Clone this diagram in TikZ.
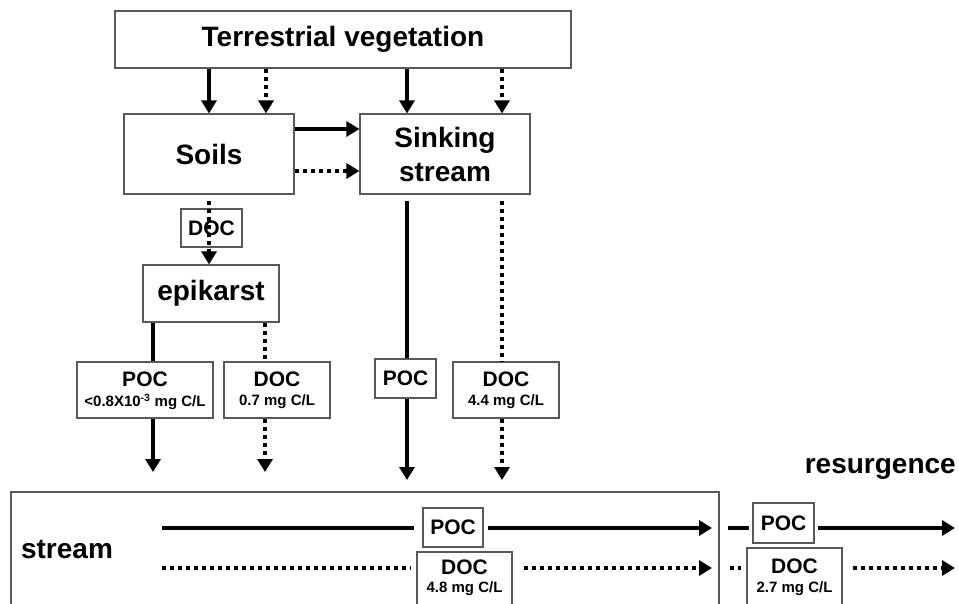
\documentclass[tikz,border=0pt]{standalone}
\usepackage{fontspec}
\setmainfont{Liberation Sans}
\usetikzlibrary{arrows.meta}
\newcommand\szBig{\fontsize{28}{34}\selectfont\bfseries}
\newcommand\szMid{\fontsize{21}{24}\selectfont\bfseries}
\newcommand\szSmall{\fontsize{15}{17}\selectfont\bfseries}
\begin{document}
\begin{tikzpicture}[x=1pt,y=-1pt,
  box/.style={draw=black!65,line width=1.1pt,inner sep=0pt,align=center},
  txt/.style={inner sep=0pt,align=center},
  solidarr/.style={line width=3.6pt,-{Triangle[length=13pt,width=15pt]}},
  dotarr/.style={line width=3.6pt,dash pattern=on 4pt off 4pt,-{Triangle[length=13pt,width=15pt]}},
  solidln/.style={line width=3.6pt},
  dotln/.style={line width=3.6pt,dash pattern=on 4pt off 4pt}]
\useasboundingbox (0,0) rectangle (959,604);
\clip (0,0) rectangle (959,604);
% boxes
\node (tv) [box,minimum width=456pt,minimum height=57pt,font=\szBig] at (343,39.5) {Terrestrial vegetation};
\node (soils) [box,minimum width=170pt,minimum height=80pt,font=\szBig] at (209,154) {Soils};
\node (sink) [box,minimum width=170pt,minimum height=80pt,font=\szBig] at (445,154) {Sinking\\stream};
\node (doc1) [box,minimum width=61pt,minimum height=38pt,font=\szMid] at (211.5,228) {DOC};
\node (epi) [box,minimum width=136pt,minimum height=57pt,font=\szBig] at (211,293.5) {epikarst};
\node (poc1) [box,minimum width=136pt,minimum height=56pt] at (145,390) {};
\node (poc1a) [txt,font=\szMid] at (145,379) {POC};
\node (poc1b) [txt,font=\szSmall] at (145,402) {<0.8X10\textsuperscript{-3} mg C/L};
\node (doc2) [box,minimum width=106pt,minimum height=56pt] at (277,390) {};
\node (doc2a) [txt,font=\szMid] at (277,379) {DOC};
\node (doc2b) [txt,font=\szSmall] at (277,402) {0.7 mg C/L};
\node (poc2) [box,minimum width=61pt,minimum height=39pt,font=\szMid] at (405.5,378.5) {POC};
\node (doc3) [box,minimum width=106pt,minimum height=56pt] at (506,390) {};
\node (doc3a) [txt,font=\szMid] at (506,379) {DOC};
\node (doc3b) [txt,font=\szSmall] at (506,402) {4.4 mg C/L};
\node (strbox) [box,minimum width=708pt,minimum height=148pt] at (365,566) {};
\node (strlbl) [txt,font=\szBig] at (67,550) {stream};
\node (poc4) [box,minimum width=60pt,minimum height=39pt,font=\szMid] at (453,527.5) {POC};
\node (doc4) [box,minimum width=95pt,minimum height=54pt] at (464.5,579) {};
\node (doc4a) [txt,font=\szMid] at (464.5,567) {DOC};
\node (doc4b) [txt,font=\szSmall] at (464.5,589) {4.8 mg C/L};
\node (poc5) [box,minimum width=61pt,minimum height=40pt,font=\szMid] at (783.5,523) {POC};
\node (doc5) [box,minimum width=95pt,minimum height=58pt] at (794.5,577) {};
\node (doc5a) [txt,font=\szMid] at (794.5,566) {DOC};
\node (doc5b) [txt,font=\szSmall] at (794.5,589) {2.7 mg C/L};
\node (res) [txt,font=\szBig,anchor=east] at (956,469) {resurgence};
% helper coordinates
\coordinate (xa) at (209,0);
\coordinate (xb) at (266,0);
\coordinate (xc) at (407,0);
\coordinate (xd) at (502,0);
\coordinate (xe) at (153,0);
\coordinate (xf) at (265,0);
\coordinate (ya) at (0,129);
\coordinate (yb) at (0,171);
\coordinate (e1) at (153,472);
\coordinate (e2) at (265,472);
\coordinate (e3) at (407,480);
\coordinate (e4) at (502,480);
\coordinate (s1) at (162,528);
\coordinate (t1) at (712,528);
\coordinate (s2) at (162,568);
\coordinate (t2) at (712,568);
\coordinate (r1) at (728,528);
\coordinate (u1) at (955,528);
\coordinate (r2) at (730,568);
\coordinate (u2) at (955,568);
% connectors
\draw[solidarr] (tv.south -| xa) -- (soils.north -| xa);
\draw[dotarr] (tv.south -| xb) -- (soils.north -| xb);
\draw[solidarr] (tv.south -| xc) -- (sink.north -| xc);
\draw[dotarr] (tv.south -| xd) -- (sink.north -| xd);
\draw[solidarr] (soils.east |- ya) -- (sink.west |- ya);
\draw[dotarr] (soils.east |- yb) -- (sink.west |- yb);
\draw[dotarr,shorten <=6pt] (soils.south -| xa) -- (epi.north -| xa);
\draw[solidln] (epi.south -| xe) -- (poc1.north -| xe);
\draw[solidarr] (poc1.south -| xe) -- (e1);
\draw[dotln] (epi.south -| xf) -- (doc2.north -| xf);
\draw[dotarr] (doc2.south -| xf) -- (e2);
\draw[solidln,shorten <=6pt] (sink.south -| xc) -- (poc2.north -| xc);
\draw[solidarr] (poc2.south -| xc) -- (e3);
\draw[dotln,shorten <=6pt] (sink.south -| xd) -- (doc3.north -| xd);
\draw[dotarr] (doc3.south -| xd) -- (e4);
\draw[solidln,shorten >=8pt] (s1) -- (poc4.west |- s1);
\draw[solidarr,shorten <=4pt] (poc4.east |- s1) -- (t1);
\draw[dotln,shorten >=5pt] (s2) -- (doc4.west |- s2);
\draw[dotarr,shorten <=11pt] (doc4.east |- s2) -- (t2);
\draw[solidln,shorten >=3pt] (r1) -- (poc5.west |- r1);
\draw[solidarr,shorten <=3pt] (poc5.east |- r1) -- (u1);
\draw[dotln,shorten >=5pt] (r2) -- (doc5.west |- r2);
\draw[dotarr,shorten <=10pt] (doc5.east |- r2) -- (u2);
\end{tikzpicture}
\end{document}
